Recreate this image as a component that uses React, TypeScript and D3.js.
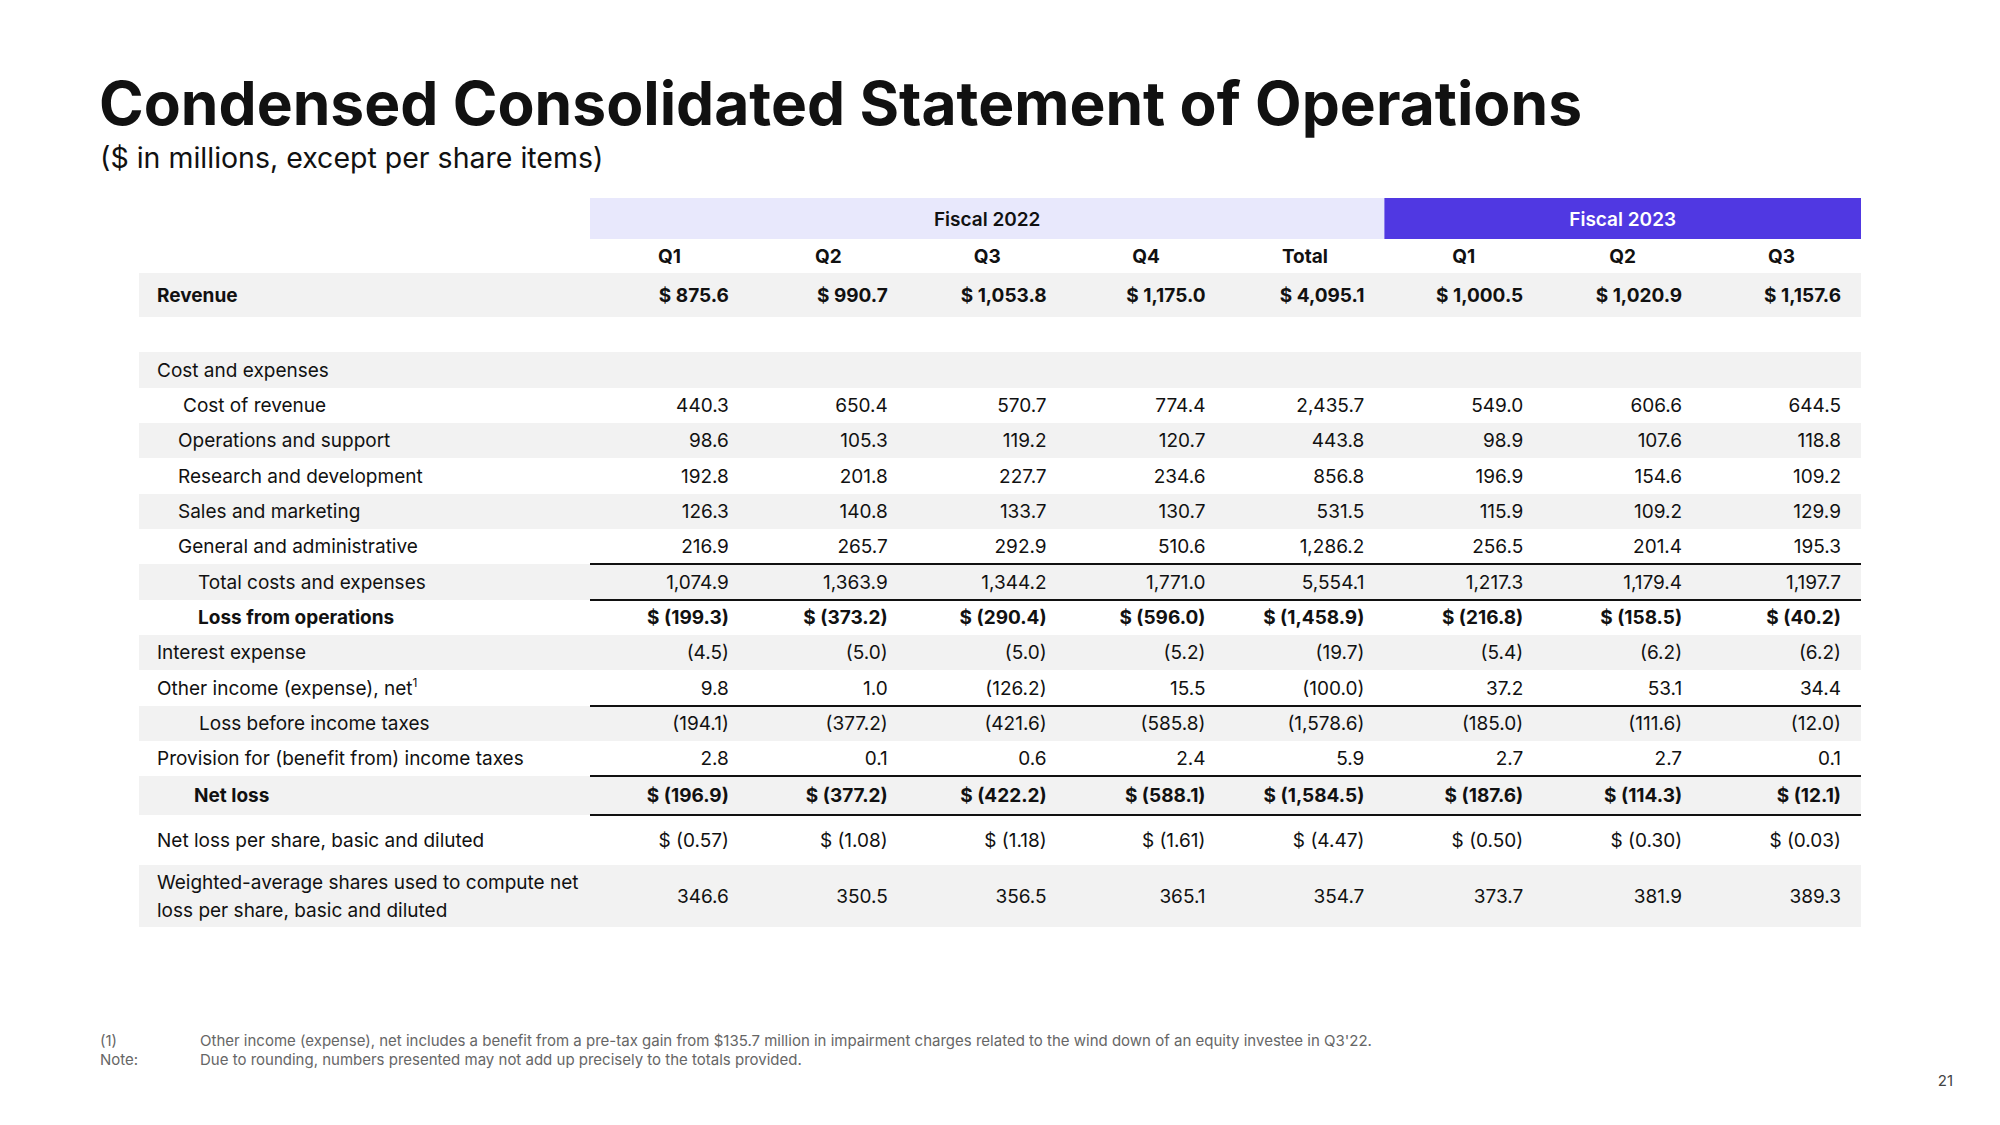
import React from "react";
import * as d3 from "d3";

const columns = ["Q1 FY22", "Q2 FY22", "Q3 FY22", "Q4 FY22", "Total FY22", "Q1 FY23", "Q2 FY23", "Q3 FY23"];
const columnHeaders = ["Q1", "Q2", "Q3", "Q4", "Total", "Q1", "Q2", "Q3"];
const fiscalGroups = ["Fiscal 2022", "Fiscal 2023"];
const fiscalGroupColumns = [[0, 4], [5, 7]];

const revenue = [875.6, 990.7, 1053.8, 1175.0, 4095.1, 1000.5, 1020.9, 1157.6];
const costOfRevenue = [440.3, 650.4, 570.7, 774.4, 2435.7, 549.0, 606.6, 644.5];
const operationsSupport = [98.6, 105.3, 119.2, 120.7, 443.8, 98.9, 107.6, 118.8];
const researchDevelopment = [192.8, 201.8, 227.7, 234.6, 856.8, 196.9, 154.6, 109.2];
const salesMarketing = [126.3, 140.8, 133.7, 130.7, 531.5, 115.9, 109.2, 129.9];
const generalAdmin = [216.9, 265.7, 292.9, 510.6, 1286.2, 256.5, 201.4, 195.3];
const totalCosts = [1074.9, 1363.9, 1344.2, 1771.0, 5554.1, 1217.3, 1179.4, 1197.7];
const lossFromOperations = [-199.3, -373.2, -290.4, -596.0, -1458.9, -216.8, -158.5, -40.2];
const interestExpense = [-4.5, -5.0, -5.0, -5.2, -19.7, -5.4, -6.2, -6.2];
const otherIncome = [9.8, 1.0, -126.2, 15.5, -100.0, 37.2, 53.1, 34.4];
const lossBeforeTaxes = [-194.1, -377.2, -421.6, -585.8, -1578.6, -185.0, -111.6, -12.0];
const provisionTaxes = [2.8, 0.1, 0.6, 2.4, 5.9, 2.7, 2.7, 0.1];
const netLoss = [-196.9, -377.2, -422.2, -588.1, -1584.5, -187.6, -114.3, -12.1];
const netLossPerShare = [-0.57, -1.08, -1.18, -1.61, -4.47, -0.5, -0.3, -0.03];
const weightedShares = [346.6, 350.5, 356.5, 365.1, 354.7, 373.7, 381.9, 389.3];

const rowLabels = [
  "Revenue",
  "Cost and expenses",
  "Cost of revenue",
  "Operations and support",
  "Research and development",
  "Sales and marketing",
  "General and administrative",
  "Total costs and expenses",
  "Loss from operations",
  "Interest expense",
  "Other income (expense), net",
  "Loss before income taxes",
  "Provision for (benefit from) income taxes",
  "Net loss",
  "Net loss per share, basic and diluted",
  "Weighted-average shares used to compute net|loss per share, basic and diluted",
];
const rowValues: (number[] | null)[] = [
  revenue, null, costOfRevenue, operationsSupport, researchDevelopment, salesMarketing,
  generalAdmin, totalCosts, lossFromOperations, interestExpense, otherIncome,
  lossBeforeTaxes, provisionTaxes, netLoss, netLossPerShare, weightedShares,
];

// layout (not data)
const rowTops = [273, 352, 388, 423, 458, 494, 529, 564, 600, 635, 670, 706, 741, 776, 815, 865];
const rowBottoms = [317, 388, 423, 458, 494, 529, 564, 600, 635, 670, 706, 741, 776, 815, 865, 927];
const rowShaded = [true, true, false, true, false, true, false, true, false, true, false, true, false, true, false, true];
const rowBold = [true, false, false, false, false, false, false, false, true, false, false, false, false, true, false, false];
const rowIndent = [157, 157, 183, 178, 178, 178, 178, 198, 198, 157, 157, 199, 157, 194, 157, 157];
const rowDollar = [true, false, false, false, false, false, false, false, true, false, false, false, false, true, true, false];
const rowDecimals = [1, 1, 1, 1, 1, 1, 1, 1, 1, 1, 1, 1, 1, 1, 2, 1];
const ruleAboveRows = [7, 8, 11, 13, 14];

const FONT = "Inter, 'DejaVu Sans', sans-serif";
const INK = "#111111";

export default function App() {
  const x = d3.scaleBand<string>().domain(columns).range([590, 1861]).paddingInner(0).paddingOuter(0);
  const bw = x.bandwidth();

  const fmt = (v: number, dec: number, dollar: boolean) => {
    const s = d3.format(`,.${dec}f`)(Math.abs(v));
    const body = v < 0 ? `(${s})` : s;
    return dollar ? `$ ${body}` : body;
  };

  return (
    <svg width={2000} height={1125} style={{ display: "block", position: "absolute", left: 0, top: 0, background: "#fff" }} fontFamily={FONT}>
      <rect x={0} y={0} width={2000} height={1125} fill="#ffffff" />
      <text x={99} y={125} fontSize={60.5} fontWeight={700} fill={INK}>
        Condensed Consolidated Statement of Operations
      </text>
      <text x={100} y={168} fontSize={28.5} fill={INK}>
        ($ in millions, except per share items)
      </text>

      {/* fiscal group bands */}
      {fiscalGroups.map((g, i) => {
        const [a, b] = fiscalGroupColumns[i];
        const x0 = x(columns[a])!;
        const x1 = x(columns[b])! + bw;
        return (
          <g key={g}>
            <rect x={x0} y={198} width={x1 - x0} height={41} fill={i === 0 ? "#E8E8FC" : "#5038E2"} />
            <text x={(x0 + x1) / 2} y={219} dy="0.35em" textAnchor="middle" fontSize={19} fontWeight={600} fill={i === 0 ? INK : "#ffffff"}>
              {g}
            </text>
          </g>
        );
      })}

      {/* column headers */}
      {columns.map((c, i) => (
        <text key={c} x={x(c)! + bw / 2} y={256} dy="0.35em" textAnchor="middle" fontSize={19} fontWeight={700} fill={INK}>
          {columnHeaders[i]}
        </text>
      ))}

      {/* row bands */}
      {rowLabels.map((lab, r) =>
        rowShaded[r] ? (
          <rect key={"b" + r} x={139} y={rowTops[r]} width={1861 - 139} height={rowBottoms[r] - rowTops[r]} fill="#F2F2F2" />
        ) : null
      )}

      {/* rules */}
      {ruleAboveRows.map((r) => (
        <line key={"l" + r} x1={590} x2={1861} y1={rowTops[r]} y2={rowTops[r]} stroke={INK} strokeWidth={2} />
      ))}

      {/* labels */}
      {rowLabels.map((lab, r) => {
        const cy = (rowTops[r] + rowBottoms[r]) / 2;
        const lines = lab.split("|");
        return (
          <text key={"t" + r} x={rowIndent[r]} fontSize={19} fontWeight={rowBold[r] ? 700 : 400} fill={INK}>
            {lines.map((ln, k) => (
              <tspan key={k} x={rowIndent[r]} y={cy + (k - (lines.length - 1) / 2) * 28} dy="0.35em">
                {ln}
                {r === 10 ? (
                  <tspan fontSize={12} dy="-0.6em">1</tspan>
                ) : null}
              </tspan>
            ))}
          </text>
        );
      })}

      {/* values */}
      {rowValues.map((vals, r) => {
        if (!vals) return null;
        const cy = (rowTops[r] + rowBottoms[r]) / 2;
        return (
          <g key={"v" + r}>
            {vals.map((v, i) => (
              <text
                key={i}
                x={x(columns[i])! + bw - 20}
                y={cy}
                dy="0.35em"
                textAnchor="end"
                fontSize={19}
                fontWeight={rowBold[r] ? 700 : 400}
                fill={INK}
              >
                {fmt(v, rowDecimals[r], rowDollar[r])}
              </text>
            ))}
          </g>
        );
      })}

      {/* footnotes */}
      <g fontSize={15} fill="#666666">
        <text x={100} y={1041} dy="0.35em">(1)</text>
        <text x={100} y={1060} dy="0.35em">Note:</text>
        <text x={200} y={1041} dy="0.35em">
          Other income (expense), net includes a benefit from a pre-tax gain from $135.7 million in impairment charges related to the wind down of an equity investee in Q3'22.
        </text>
        <text x={200} y={1060} dy="0.35em">
          Due to rounding, numbers presented may not add up precisely to the totals provided.
        </text>
      </g>
      <text x={1953} y={1081} dy="0.35em" textAnchor="end" fontSize={15} fill="#444444">21</text>
    </svg>
  );
}
